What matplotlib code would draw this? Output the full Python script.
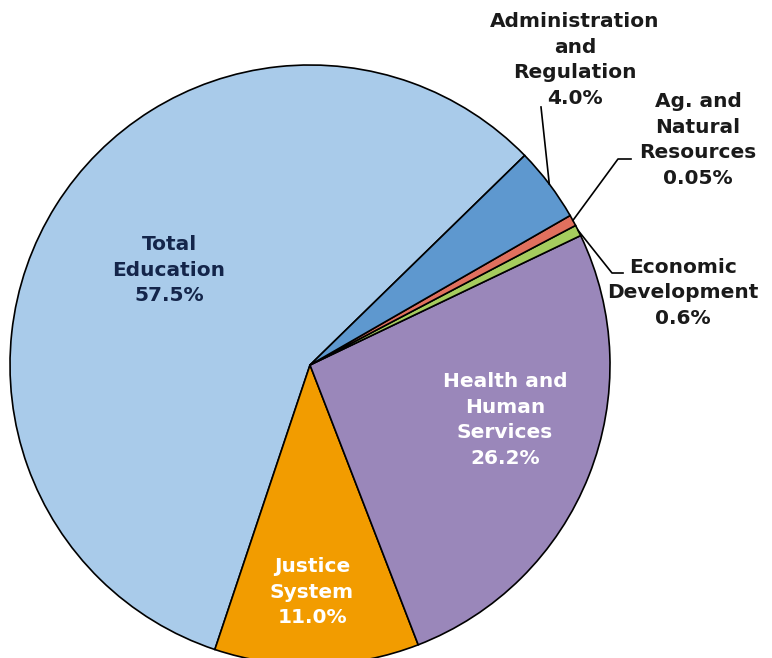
import numpy as np
import matplotlib
matplotlib.use('Agg')
import matplotlib.pyplot as plt

# Budget shares by area (slice order counterclockwise from the upper right)
categories = ['Total\nEducation', 'Justice\nSystem', 'Health and\nHuman\nServices',
              'Economic\nDevelopment', 'Ag. and\nNatural\nResources', 'Administration\nand\nRegulation']
shares = [57.5, 11.0, 26.2, 0.6, 0.6, 4.0]          # slice sizes as drawn
share_labels = ['57.5%', '11.0%', '26.2%', '0.6%', '0.05%', '4.0%']
colors = ['#a9cbea', '#f29c00', '#9a87ba', '#a5cc5e', '#e0705e', '#5e98cf']

W, H = 772, 658
fig = plt.figure(figsize=(W / 100, H / 100), dpi=100)
ax = fig.add_axes([0, 0, 1, 1])

cx, cy, r = 310, H - 365, 300
wedges, _ = ax.pie(shares, colors=colors, startangle=44.3, counterclock=True,
                   center=(cx, cy), radius=r, frame=True,
                   wedgeprops=dict(edgecolor='black', linewidth=1.2))
ax.set_xlim(0, W)
ax.set_ylim(0, H)
ax.set_aspect('equal')
ax.axis('off')

font = dict(fontsize=14.5, fontweight='bold', ha='center', va='center', linespacing=1.45)

def lab(i):
    return categories[i] + '\n' + share_labels[i]

# labels inside the pie
ax.text(169, H - 270, lab(0), color='#14254a', **font)
ax.text(312, H - 592, lab(1), color='white', **font)
ax.text(505, H - 420, lab(2), color='white', **font)

# labels outside with leader lines
ax.text(575, H - 60, lab(5), color='#1a1a1a', **font)
ax.text(698, H - 140, lab(4), color='#1a1a1a', **font)
ax.text(683, H - 293, lab(3), color='#1a1a1a', **font)

def edge_point(w):
    a = np.deg2rad((w.theta1 + w.theta2) / 2)
    return cx + r * np.cos(a), cy + r * np.sin(a)

x0, y0 = edge_point(wedges[5])
ax.plot([541, x0], [H - 107, y0], color='black', lw=1.2)
x0, y0 = edge_point(wedges[4])
ax.plot([x0, 618, 631], [y0, H - 159, H - 159], color='black', lw=1.2)
x0, y0 = edge_point(wedges[3])
ax.plot([x0, 612, 623], [y0, H - 273, H - 273], color='black', lw=1.2)

fig.savefig('out.png', dpi=100, facecolor='white')
